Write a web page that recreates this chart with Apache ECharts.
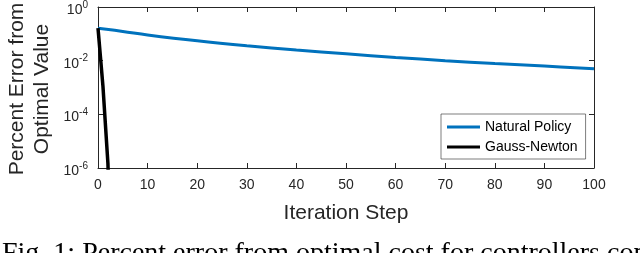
<!DOCTYPE html>
<html>
<head>
<meta charset="utf-8">
<script src="https://cdn.jsdelivr.net/npm/echarts@6/dist/echarts.min.js"></script>
<style>
html,body{margin:0;padding:0;background:#fff;}
#chart{width:640px;height:253px;}
</style>
</head>
<body>
<div id="chart"></div>
<script>
// ---- data ----
const xTicks = [0, 10, 20, 30, 40, 50, 60, 70, 80, 90, 100];
const naturalX = [0, 5, 10, 20, 30, 40, 50, 60, 70, 80, 90, 100];
const naturalY = [0.162, 0.123, 0.091, 0.055, 0.036, 0.025, 0.018, 0.0132, 0.0100, 0.0078, 0.0063, 0.0050];
const gaussX = [0, 1, 2, 3];
const gaussY = [0.162, 1.1e-3, 1.5e-6, 1e-12];
const yTickExponents = [0, -2, -4, -6];
const seriesNames = ['Natural Policy', 'Gauss-Newton'];
const xLabel = 'Iteration Step';
const yLabel = 'Percent Error from\nOptimal Value';
const caption = 'Fig. 1: Percent error from optimal cost for controllers con';

const axisColor = '#262626';
const font = '"Liberation Sans", Arial, Helvetica, sans-serif';

const chart = echarts.init(document.getElementById('chart'), null, {renderer: 'canvas'});

const pairs = (xs, ys) => xs.map((x, i) => [x, ys[i]]);

const commonX = {
  type: 'value', min: xTicks[0], max: xTicks[xTicks.length - 1], interval: xTicks[1] - xTicks[0],
  splitLine: {show: false},
  axisLine: {show: true, onZero: false, lineStyle: {color: axisColor, width: 1}},
  axisTick: {show: true, inside: true, length: 5, lineStyle: {color: axisColor}}
};
const commonY = {
  type: 'log', logBase: 10, min: Math.pow(10, yTickExponents[yTickExponents.length - 1]),
  max: Math.pow(10, yTickExponents[0]), interval: 2,
  splitLine: {show: false}, minorTick: {show: false},
  axisLine: {show: true, onZero: false, lineStyle: {color: axisColor, width: 1}},
  axisTick: {show: true, inside: true, length: 5, lineStyle: {color: axisColor}}
};

const option = {
  animation: false,
  backgroundColor: '#fff',
  textStyle: {fontFamily: font},
  grid: {left: 98, top: 6, right: 46, bottom: 85, containLabel: false},
  xAxis: [
    Object.assign({}, commonX, {
      position: 'bottom',
      axisLabel: {show: true, fontSize: 14, color: axisColor, fontFamily: font, margin: 10}
    }),
    Object.assign({}, commonX, {position: 'top', axisLabel: {show: false}})
  ],
  yAxis: [
    Object.assign({}, commonY, {
      position: 'left',
      axisLabel: {
        show: true, margin: 10, color: axisColor, fontFamily: font,
        formatter: function (v) {
          const e = Math.round(Math.log10(v));
          return '{b|10}{s|' + e + '}';
        },
        rich: {
          b: {fontSize: 14, color: axisColor, fontFamily: font, padding: [6, 0, 0, 0]},
          s: {fontSize: 10, color: axisColor, fontFamily: font, padding: [0, 0, 4, 0]}
        }
      }
    }),
    Object.assign({}, commonY, {position: 'right', axisLabel: {show: false}})
  ],
  legend: {
    orient: 'vertical', left: 441, top: 114,
    padding: [6, 8, 5, 6], itemGap: 6, itemWidth: 33, itemHeight: 3,
    icon: 'rect',
    backgroundColor: '#fff', borderColor: axisColor, borderWidth: 0.6,
    textStyle: {fontSize: 14, color: '#000', fontFamily: font},
    data: seriesNames
  },
  series: [
    {
      name: seriesNames[0], type: 'line', xAxisIndex: 0, yAxisIndex: 0,
      data: pairs(naturalX, naturalY), showSymbol: false, symbol: 'none', smooth: 0.4,
      lineStyle: {color: '#0072BD', width: 3}, itemStyle: {color: '#0072BD'}, clip: true, z: 3
    },
    {
      name: seriesNames[1], type: 'line', xAxisIndex: 0, yAxisIndex: 0,
      data: pairs(gaussX, gaussY), showSymbol: false, symbol: 'none',
      lineStyle: {color: '#000', width: 3.5}, itemStyle: {color: '#000'}, clip: true, z: 4
    }
  ],
  graphic: [
    {
      type: 'text', x: 346, y: 213,
      style: {text: xLabel, fontSize: 21, fill: axisColor, fontFamily: font, align: 'center', verticalAlign: 'middle'}
    },
    {
      type: 'text', x: 30, y: 89, rotation: Math.PI / 2,
      style: {text: yLabel, fontSize: 21, lineHeight: 25, fill: axisColor, fontFamily: font, align: 'center', verticalAlign: 'middle'}
    },
    {
      type: 'text', x: 2, y: 240,
      style: {text: caption, fontSize: 28, fill: '#000', fontFamily: '"Liberation Serif", "Times New Roman", serif', align: 'left', verticalAlign: 'top'}
    }
  ]
};
chart.setOption(option);
</script>
</body>
</html>
